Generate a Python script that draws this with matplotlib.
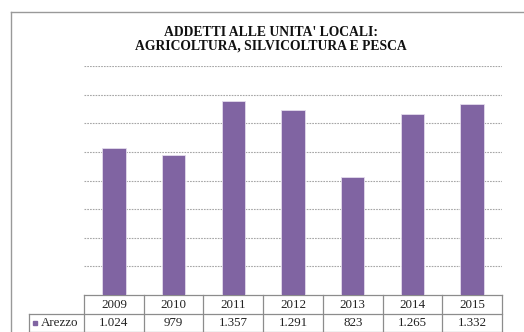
import matplotlib
matplotlib.use("Agg")
import matplotlib.pyplot as plt
from matplotlib.lines import Line2D
from matplotlib.patches import Rectangle

years = ["2009", "2010", "2011", "2012", "2013", "2014", "2015"]
arezzo = [1024, 979, 1357, 1291, 823, 1265, 1332]
value_labels = ["1.024", "979", "1.357", "1.291", "823", "1.265", "1.332"]
series_name = "Arezzo"
title = "ADDETTI ALLE UNITA' LOCALI:\nAGRICOLTURA, SILVICOLTURA E PESCA"

W, H = 524, 332
fig = plt.figure(figsize=(W / 100, H / 100), dpi=100)
fig.patch.set_facecolor("white")

serif = ["Liberation Serif", "DejaVu Serif"]
purple = "#8064A2"
grid_c = "#A6A6A6"
line_c = "#8C8C8C"

# outer frame (left and top only visible)
fig.add_artist(Line2D([11 / W, 11 / W], [0, 1 - 12 / H], transform=fig.transFigure, color="#999999", lw=1.0))
fig.add_artist(Line2D([11 / W, 1], [1 - 12 / H, 1 - 12 / H], transform=fig.transFigure, color="#999999", lw=1.0))

x0, x1 = 84, 502
y_top, y_bot = 66, 295
ax = fig.add_axes([x0 / W, 1 - y_bot / H, (x1 - x0) / W, (y_bot - y_top) / H])
ax.set_facecolor("none")
x = list(range(len(years)))
ax.bar(x, arezzo, width=0.39, color=purple, zorder=3, edgecolor="#E4DCEC", linewidth=0.6)
ax.set_xlim(-0.5, len(years) - 0.5)
ax.set_ylim(0, 1600)
ax.set_yticks(range(200, 1601, 200))
ax.yaxis.grid(True, color=grid_c, linestyle=(0, (1.5, 1)), lw=0.8, zorder=0)
ax.tick_params(left=False, bottom=False, labelleft=False, labelbottom=False)
for s in ax.spines.values():
    s.set_visible(False)

fig.text(0.5 + 9 / W, 1 - 39 / H, title, ha="center", va="center", fontsize=9.8,
         fontweight="bold", family=serif, linespacing=1.1, color="#111111")

# data table below the axes
ph = y_bot - y_top
r1 = -(314 - y_bot) / ph
r2 = -(332 - y_bot) / ph
lab_x = (29 - x0) / (x1 - x0)
tr = ax.get_xaxis_transform()
kw = dict(color=line_c, lw=0.9, clip_on=False)
n = len(years)
fs = 9.4
ax.plot([-0.5, n - 0.5], [0, 0], transform=tr, **kw)
ax.plot([lab_x, 1], [r1, r1], transform=ax.transAxes, **kw)
ax.plot([lab_x, 1], [r2 + 0.002, r2 + 0.002], transform=ax.transAxes, **kw)
ax.plot([lab_x, lab_x], [r1, r2], transform=ax.transAxes, **kw)
for i in range(n + 1):
    ax.plot([i - 0.5, i - 0.5], [0, r2], transform=tr, **kw)
for i in range(n):
    ax.text(i, r1 / 2, years[i], transform=tr, ha="center", va="center", fontsize=fs, family=serif, color="#222222")
    ax.text(i, (r1 + r2) / 2, value_labels[i], transform=tr, ha="center", va="center", fontsize=fs, family=serif, color="#222222")
ax.add_patch(Rectangle((lab_x + 4 / (x1 - x0), (r1 + r2) / 2 - 2.2 / ph), 4.4 / (x1 - x0), 4.4 / ph,
                       transform=ax.transAxes, color=purple, clip_on=False))
ax.text(lab_x + 12 / (x1 - x0), (r1 + r2) / 2, series_name, transform=ax.transAxes, ha="left", va="center",
        fontsize=fs, family=serif, color="#222222")

fig.savefig("out.png", dpi=100)
